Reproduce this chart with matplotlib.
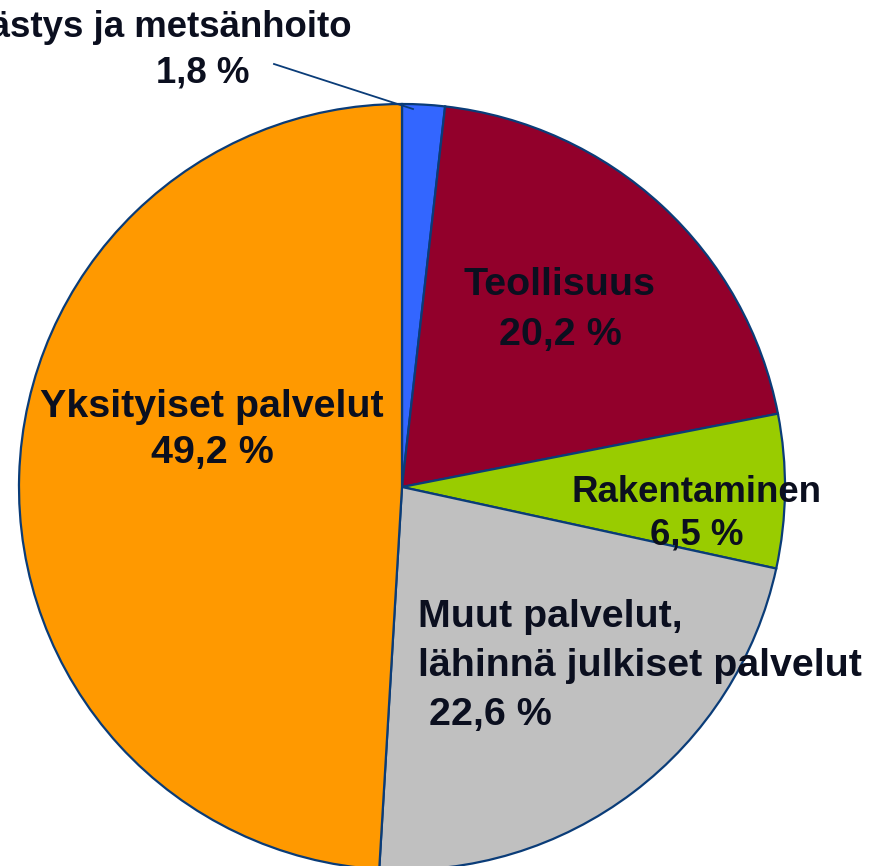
import matplotlib.pyplot as plt

# share of value added by sector (%)
sectors = ['Maatalous, metsästys ja metsänhoito', 'Teollisuus', 'Rakentaminen',
           'Muut palvelut, lähinnä julkiset palvelut', 'Yksityiset palvelut']
shares = [1.8, 20.2, 6.5, 22.6, 49.2]
colors = ['#3366FF', '#92002B', '#99CC00', '#C0C0C0', '#FF9900']

plt.rcParams['font.family'] = ['Liberation Sans', 'DejaVu Sans']
txt = '#0B0F1F'
edge = '#0A3C78'

W, H = 882, 866
fig = plt.figure(figsize=(W / 100, H / 100), dpi=100)
ax = fig.add_axes([0, 0, 1, 1])
ax.set_xlim(0, W)
ax.set_ylim(H, 0)
ax.axis('off')

# pie drawn in pixel coords (y flipped, so counterclock=True gives clockwise on screen)
ax.pie(shares, colors=colors, startangle=-90, counterclock=True,
       center=(402, 487), radius=383, frame=True,
       wedgeprops=dict(edgecolor=edge, linewidth=1.6))
ax.set_xlim(0, W)
ax.set_ylim(H, 0)
ax.axis('off')
ax.set_aspect('equal')

def pct(v):
    return f'{v:.1f} %'.replace('.', ',')

kw = dict(fontweight='bold', color=txt, va='baseline')
big, small = 28.4, 26.4

# labels
ax.text(352, 37, 'Maatalous, metsästys ja metsänhoito', ha='right', fontsize=small, **kw)
ax.text(203, 82, pct(shares[0]), ha='center', fontsize=small, **kw)
ax.plot([274, 413], [64, 109], color=edge, lw=1.3)

ax.text(560, 295, sectors[1], ha='center', fontsize=big, **kw)
ax.text(560, 345, pct(shares[1]), ha='center', fontsize=big, **kw)

ax.text(697, 502, sectors[2], ha='center', fontsize=small, **kw)
ax.text(697, 545, pct(shares[2]), ha='center', fontsize=small, **kw)

ax.text(418, 627, 'Muut palvelut,', ha='left', fontsize=big, **kw)
ax.text(418, 676, 'lähinnä julkiset palvelut', ha='left', fontsize=big, **kw)
ax.text(418, 725, ' ' + pct(shares[3]), ha='left', fontsize=big, **kw)

ax.text(212, 417, sectors[4], ha='center', fontsize=big, **kw)
ax.text(212, 463, pct(shares[4]), ha='center', fontsize=big, **kw)

fig.savefig('out.png', dpi=100)
